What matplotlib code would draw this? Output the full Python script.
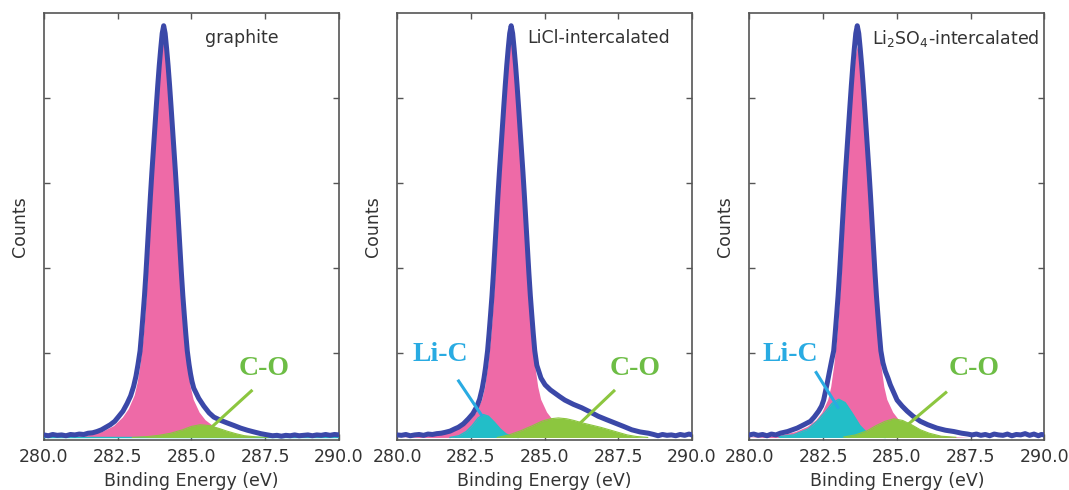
import matplotlib
matplotlib.use("Agg")
import matplotlib.pyplot as plt

# ---------------- data ----------------
# Panel 1: graphite
g_meas_x = [280.0, 280.15, 280.3, 280.45, 280.6, 280.75, 280.9, 281.05, 281.2, 281.35, 281.5, 281.65,
            281.8, 281.95, 282.1, 282.25, 282.4, 282.53, 282.68, 282.82, 282.94, 283.04, 283.12,
            283.19, 283.26, 283.31, 283.36, 283.41, 283.46, 283.51, 283.56, 283.61, 283.66, 283.71,
            283.76, 283.81, 283.86, 283.91, 283.96, 284.01, 284.06, 284.11, 284.16, 284.21, 284.26,
            284.31, 284.36, 284.41, 284.46, 284.51, 284.56, 284.61, 284.66, 284.71, 284.76, 284.81,
            284.86, 284.92, 284.97, 285.02, 285.08, 285.25, 285.42, 285.6, 285.76, 286.0, 286.22,
            286.45, 286.67, 286.9, 287.12, 287.35, 287.58, 287.75, 287.9, 288.05, 288.2, 288.35,
            288.5, 288.65, 288.8, 288.95, 289.1, 289.25, 289.4, 289.55, 289.7, 289.85, 290.0]
g_meas_y = [0.03, 0.02, 0.035, 0.025, 0.03, 0.02, 0.035, 0.03, 0.04, 0.035, 0.05, 0.055,
            0.07, 0.09, 0.12, 0.15, 0.19, 0.245, 0.31, 0.4, 0.49, 0.6, 0.72,
            0.86, 1.02, 1.22, 1.44, 1.67, 1.94, 2.24, 2.54, 2.84, 3.12, 3.38,
            3.64, 3.9, 4.15, 4.38, 4.58, 4.76, 4.85, 4.76, 4.58, 4.38, 4.15,
            3.9, 3.64, 3.38, 3.12, 2.84, 2.54, 2.24, 1.94, 1.67, 1.44, 1.22,
            1.02, 0.86, 0.75, 0.66, 0.58, 0.46, 0.37, 0.29, 0.24, 0.2, 0.17,
            0.14, 0.11, 0.085, 0.065, 0.045, 0.03, 0.02, 0.025, 0.015, 0.025, 0.02,
            0.03, 0.02, 0.025, 0.03, 0.02, 0.03, 0.025, 0.035, 0.025, 0.035, 0.03]
g_cc_x = [280.26, 280.86, 281.46, 281.96, 282.36, 282.66, 282.86, 283.06, 283.16, 283.26, 283.36,
          283.41, 283.46, 283.51, 283.56, 283.61, 283.66, 283.71, 283.76, 283.81, 283.86, 283.91,
          283.96, 284.01, 284.06, 284.11, 284.16, 284.21, 284.26, 284.31, 284.36, 284.41, 284.46,
          284.51, 284.56, 284.61, 284.66, 284.71, 284.76, 284.86, 284.96, 285.06, 285.26, 285.46,
          285.76, 286.16, 286.66, 287.26, 287.86]
g_cc_y = [0.0, 0.01, 0.03, 0.07, 0.14, 0.24, 0.34, 0.5, 0.65, 0.87, 1.18,
          1.4, 1.66, 1.95, 2.26, 2.57, 2.88, 3.18, 3.46, 3.72, 3.97, 4.22,
          4.45, 4.6, 4.67, 4.6, 4.45, 4.22, 3.97, 3.72, 3.46, 3.18, 2.88,
          2.57, 2.26, 1.95, 1.66, 1.4, 1.18, 0.85, 0.6, 0.45, 0.3, 0.21,
          0.13, 0.07, 0.03, 0.01, 0.0]
g_lic_x = [280.0, 290.0]
g_lic_y = [0.0, 0.0]
g_co_x = [283.0, 283.5, 283.9, 284.3, 284.7, 285.0, 285.3, 285.6, 285.9, 286.2, 286.5, 286.8, 287.2, 287.6]
g_co_y = [0.0, 0.01, 0.025, 0.05, 0.09, 0.13, 0.15, 0.14, 0.11, 0.075, 0.045, 0.02, 0.007, 0.0]

# Panel 2: LiCl-intercalated
l_meas_x = [280.0, 280.15, 280.3, 280.45, 280.6, 280.75, 280.9, 281.05, 281.2, 281.35, 281.5,
            281.63, 281.8, 281.95, 282.08, 282.25, 282.42, 282.57, 282.7, 282.8, 282.89, 282.95,
            283.0, 283.07, 283.12, 283.17, 283.22, 283.27, 283.32, 283.37, 283.42, 283.47, 283.52,
            283.57, 283.62, 283.67, 283.72, 283.77, 283.82, 283.87, 283.92, 283.97, 284.02, 284.07,
            284.12, 284.17, 284.22, 284.27, 284.32, 284.37, 284.42, 284.47, 284.52, 284.57, 284.62,
            284.67, 284.74, 284.88, 285.02, 285.2, 285.36, 285.52, 285.69, 285.98, 286.26, 286.55,
            286.82, 287.1, 287.39, 287.68, 287.96, 288.24, 288.52, 288.7, 288.85, 289.0, 289.15,
            289.3, 289.45, 289.6, 289.75, 289.9, 290.0]
l_meas_y = [0.03, 0.025, 0.035, 0.02, 0.03, 0.035, 0.025, 0.04, 0.035, 0.045, 0.05,
            0.06, 0.075, 0.1, 0.12, 0.16, 0.22, 0.28, 0.36, 0.45, 0.58, 0.7,
            0.82, 1.02, 1.22, 1.44, 1.67, 1.94, 2.24, 2.54, 2.84, 3.12, 3.38,
            3.64, 3.9, 4.15, 4.38, 4.58, 4.76, 4.85, 4.76, 4.58, 4.38, 4.15,
            3.9, 3.64, 3.38, 3.12, 2.84, 2.54, 2.24, 1.94, 1.67, 1.44, 1.22,
            1.02, 0.85, 0.7, 0.62, 0.56, 0.52, 0.48, 0.44, 0.39, 0.35, 0.3,
            0.25, 0.21, 0.17, 0.13, 0.09, 0.065, 0.05, 0.035, 0.02, 0.035, 0.025,
            0.03, 0.02, 0.035, 0.025, 0.04, 0.03]
l_cc_x = [280.07, 280.67, 281.27, 281.77, 282.17, 282.47, 282.67, 282.87, 282.97, 283.07, 283.17,
          283.22, 283.27, 283.32, 283.37, 283.42, 283.47, 283.52, 283.57, 283.62, 283.67, 283.72,
          283.77, 283.82, 283.87, 283.92, 283.97, 284.02, 284.07, 284.12, 284.17, 284.22, 284.27,
          284.32, 284.37, 284.42, 284.47, 284.52, 284.57, 284.67, 284.77, 284.87, 285.07, 285.27,
          285.57, 285.97, 286.47, 287.07, 287.67]
l_cc_y = [0.0, 0.01, 0.03, 0.07, 0.13, 0.21, 0.3, 0.45, 0.6, 0.85, 1.18,
          1.4, 1.66, 1.95, 2.26, 2.57, 2.88, 3.18, 3.46, 3.72, 3.97, 4.22,
          4.47, 4.65, 4.74, 4.65, 4.47, 4.22, 3.97, 3.72, 3.46, 3.18, 2.88,
          2.57, 2.26, 1.95, 1.66, 1.4, 1.18, 0.85, 0.6, 0.45, 0.3, 0.21,
          0.13, 0.07, 0.03, 0.01, 0.0]
l_lic_x = [281.8, 282.1, 282.35, 282.55, 282.75, 282.93, 283.1, 283.3, 283.5, 283.7, 283.9, 284.1]
l_lic_y = [0.0, 0.02, 0.07, 0.14, 0.23, 0.27, 0.25, 0.18, 0.1, 0.04, 0.012, 0.0]
l_co_x = [283.4, 283.8, 284.2, 284.6, 284.9, 285.2, 285.47, 285.75, 286.0, 286.3, 286.6, 286.9,
          287.2, 287.5, 287.8, 288.1, 288.5]
l_co_y = [0.0, 0.03, 0.08, 0.14, 0.19, 0.22, 0.23, 0.22, 0.2, 0.17, 0.145, 0.12,
          0.09, 0.06, 0.03, 0.012, 0.0]

# Panel 3: Li2SO4-intercalated
s_meas_x = [280.0, 280.15, 280.3, 280.45, 280.6, 280.75, 280.9, 281.05, 281.3, 281.62, 281.85,
            282.07, 282.2, 282.35, 282.45, 282.52, 282.63, 282.72, 282.8, 282.86, 282.91, 282.96,
            283.01, 283.06, 283.11, 283.16, 283.21, 283.26, 283.31, 283.36, 283.41, 283.46, 283.51,
            283.56, 283.61, 283.66, 283.71, 283.76, 283.81, 283.86, 283.91, 283.96, 284.01, 284.06,
            284.11, 284.16, 284.21, 284.26, 284.31, 284.36, 284.41, 284.46, 284.53, 284.61, 284.7,
            284.78, 285.01, 285.18, 285.35, 285.55, 285.8, 286.05, 286.36, 286.65, 286.93, 287.2,
            287.4, 287.55, 287.7, 287.85, 288.0, 288.15, 288.3, 288.45, 288.6, 288.75, 288.9,
            289.05, 289.2, 289.35, 289.5, 289.65, 289.8, 289.9, 290.0]
s_meas_y = [0.03, 0.04, 0.025, 0.035, 0.02, 0.04, 0.03, 0.05, 0.07, 0.11, 0.15,
            0.19, 0.24, 0.31, 0.37, 0.44, 0.62, 0.78, 0.92, 1.02, 1.22, 1.44,
            1.67, 1.94, 2.24, 2.54, 2.84, 3.12, 3.38, 3.64, 3.9, 4.15, 4.38,
            4.58, 4.76, 4.85, 4.76, 4.58, 4.38, 4.15, 3.9, 3.64, 3.38, 3.12,
            2.84, 2.54, 2.24, 1.94, 1.67, 1.44, 1.22, 1.02, 0.88, 0.78, 0.7,
            0.62, 0.44, 0.37, 0.31, 0.25, 0.19, 0.15, 0.11, 0.085, 0.07, 0.05,
            0.04, 0.03, 0.04, 0.025, 0.035, 0.02, 0.04, 0.03, 0.025, 0.04, 0.02,
            0.035, 0.03, 0.045, 0.025, 0.04, 0.02, 0.035, 0.03]
s_cc_x = [279.86, 280.46, 281.06, 281.56, 281.96, 282.26, 282.46, 282.66, 282.76, 282.86, 282.96,
          283.01, 283.06, 283.11, 283.16, 283.21, 283.26, 283.31, 283.36, 283.41, 283.46, 283.51,
          283.56, 283.61, 283.66, 283.71, 283.76, 283.81, 283.86, 283.91, 283.96, 284.01, 284.06,
          284.11, 284.16, 284.21, 284.26, 284.31, 284.36, 284.46, 284.56, 284.66, 284.86, 285.06,
          285.36, 285.76, 286.26, 286.86, 287.46]
s_cc_y = [0.0, 0.01, 0.03, 0.07, 0.13, 0.21, 0.3, 0.45, 0.6, 0.85, 1.18,
          1.4, 1.66, 1.95, 2.26, 2.57, 2.88, 3.18, 3.46, 3.72, 3.97, 4.2,
          4.4, 4.54, 4.61, 4.54, 4.4, 4.2, 3.97, 3.72, 3.46, 3.18, 2.88,
          2.57, 2.26, 1.95, 1.66, 1.4, 1.18, 0.85, 0.6, 0.45, 0.3, 0.21,
          0.13, 0.07, 0.03, 0.01, 0.0]
s_lic_x = [281.0, 281.5, 282.0, 282.3, 282.6, 282.8, 283.03, 283.25, 283.5, 283.75, 284.0, 284.3, 284.6]
s_lic_y = [0.01, 0.03, 0.1, 0.19, 0.31, 0.4, 0.45, 0.41, 0.28, 0.14, 0.05, 0.01, 0.0]
s_co_x = [283.2, 283.6, 284.0, 284.3, 284.6, 284.9, 285.2, 285.5, 285.8, 286.1, 286.5, 287.0]
s_co_y = [0.005, 0.03, 0.08, 0.14, 0.19, 0.22, 0.2, 0.15, 0.09, 0.05, 0.015, 0.002]

titles = ["graphite", "LiCl-intercalated", "Li$_2$SO$_4$-intercalated"]
title_x = [285.47, 284.4, 284.15]
x_ticks = [280.0, 282.5, 285.0, 287.5, 290.0]
x_tick_labels = ["280.0", "282.5", "285.0", "287.5", "290.0"]
y_ticks = [1, 2, 3, 4]

# annotation positions (text x, text y, line start, line end)
co_text = [(287.46, 0.81), (288.08, 0.81), (287.62, 0.81)]
co_line = [((287.07, 0.56), (285.65, 0.11)), ((287.39, 0.56), (286.03, 0.11)), ((286.7, 0.54), (285.23, 0.11))]
lic_text = [None, (281.48, 0.98), (281.39, 0.98)]
lic_line = [None, ((282.06, 0.68), (282.89, 0.25)), ((282.24, 0.78), (283.03, 0.34))]

# ---------------- styling ----------------
BLUE = "#3b48a8"
PINK = "#ee6aa7"
CYAN = "#22bec8"
GREEN = "#8cc63f"
LIC_TXT = "#29abe2"
CO_TXT = "#6dbd45"
FRAME = "#555555"
TXT = "#333333"

W, H = 1069, 490
fig = plt.figure(figsize=(W / 100, H / 100), dpi=100)
plt.rcParams['font.family'] = ['DejaVu Sans']

ax_lefts = [43.9 / W, 397.0 / W, 749.3 / W]
ax_w = 295.0 / W
ax_bottom = 1 - 440.0 / H
ax_h = (440.0 - 13.0) / H

panels = [
    (g_meas_x, g_meas_y, g_cc_x, g_cc_y, g_lic_x, g_lic_y, g_co_x, g_co_y),
    (l_meas_x, l_meas_y, l_cc_x, l_cc_y, l_lic_x, l_lic_y, l_co_x, l_co_y),
    (s_meas_x, s_meas_y, s_cc_x, s_cc_y, s_lic_x, s_lic_y, s_co_x, s_co_y),
]

for i, (mx, my, cx, cy, lx, ly, ox, oy) in enumerate(panels):
    ax = fig.add_axes([ax_lefts[i], ax_bottom, ax_w, ax_h])
    ax.fill_between(cx, 0, cy, color=PINK, lw=0, zorder=2)
    ax.fill_between(lx, 0, ly, color=CYAN, lw=0, zorder=3)
    ax.plot(lx, ly, color=CYAN, lw=1.0, zorder=3)
    ax.fill_between(ox, 0, oy, color=GREEN, lw=0, zorder=4)
    ax.plot(ox, oy, color=GREEN, lw=0.8, zorder=4)
    ax.plot(mx, my, color=BLUE, lw=3.6, solid_joinstyle='round', solid_capstyle='round', zorder=5)

    ax.set_xlim(280, 290)
    ax.set_ylim(-0.03, 5.0)
    ax.set_xticks(x_ticks)
    ax.set_xticklabels(x_tick_labels)
    ax.set_yticks(y_ticks)
    ax.set_yticklabels([])
    ax.tick_params(direction='in', top=True, right=True, length=4, width=1,
                   color=FRAME, labelsize=12.5, labelcolor=TXT, pad=6)
    for sp in ax.spines.values():
        sp.set_color(FRAME)
        sp.set_linewidth(1.2)
    ax.set_xlabel("Binding Energy (eV)", fontsize=12.5, color=TXT, labelpad=4)
    ax.set_ylabel("Counts", fontsize=12.5, color=TXT, labelpad=5)

    ax.text(title_x[i], 4.7, titles[i], fontsize=12.5, color=TXT, ha='left', va='center', zorder=6)

    (tx, ty) = co_text[i]
    ax.text(tx, ty, "C-O", fontsize=20, color=CO_TXT, fontweight='bold',
            family='Liberation Serif', ha='center', va='center', zorder=7)
    (p0, p1) = co_line[i]
    ax.plot([p0[0], p1[0]], [p0[1], p1[1]], color=GREEN, lw=2.2, solid_capstyle='butt', zorder=7)
    if lic_text[i] is not None:
        (tx, ty) = lic_text[i]
        ax.text(tx, ty, "Li-C", fontsize=20, color=LIC_TXT, fontweight='bold',
                family='Liberation Serif', ha='center', va='center', zorder=7)
        (p0, p1) = lic_line[i]
        ax.plot([p0[0], p1[0]], [p0[1], p1[1]], color=LIC_TXT, lw=2.2, solid_capstyle='butt', zorder=7)

fig.savefig("out.png", dpi=100)
